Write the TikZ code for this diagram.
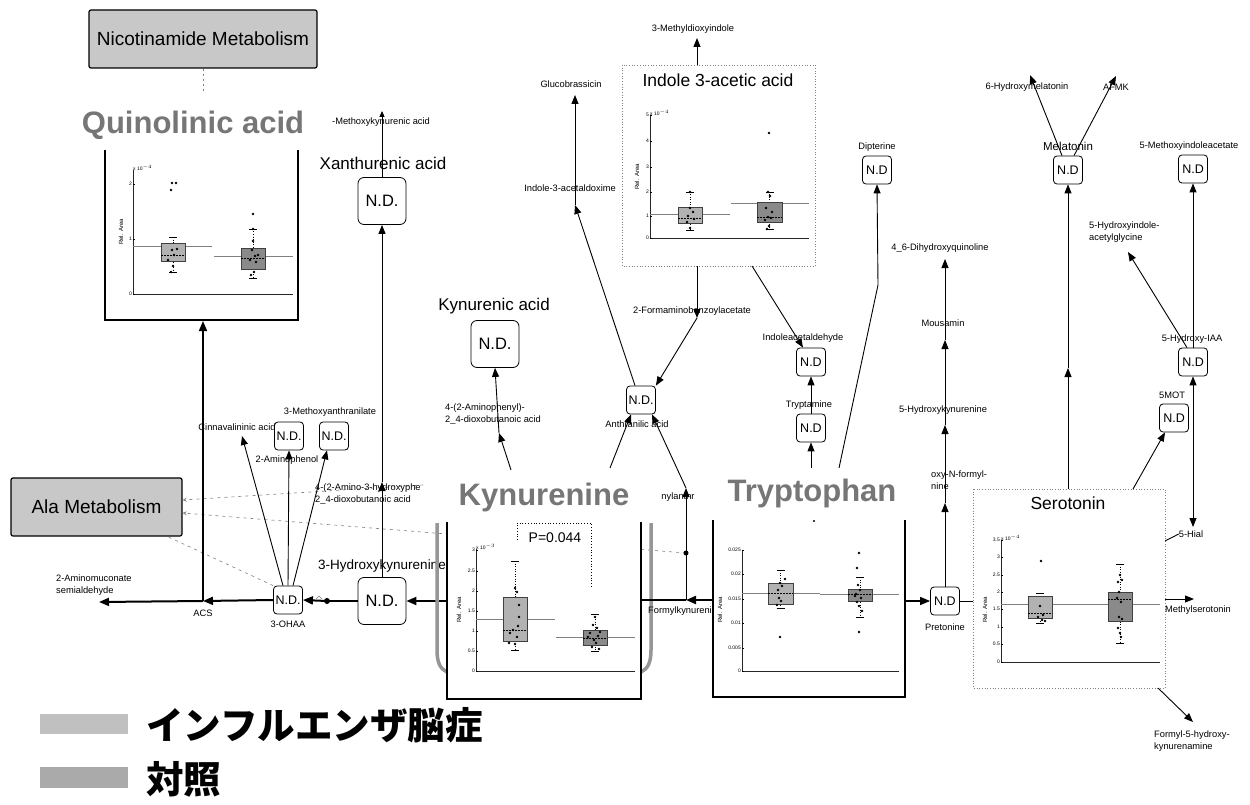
\documentclass[tikz,border=0pt]{standalone}
\usepackage{fontspec}
\setmainfont{Liberation Sans}
\newfontfamily\jpfont{Noto Sans CJK JP}
\usetikzlibrary{arrows.meta,backgrounds}
\definecolor{titlegray}{RGB}{118,118,118}
\definecolor{metabgray}{RGB}{200,200,200}
\definecolor{boxA}{RGB}{178,178,178}
\definecolor{boxB}{RGB}{138,138,138}
\definecolor{legA}{RGB}{192,192,192}
\definecolor{legB}{RGB}{170,170,170}
\definecolor{flaskgray}{RGB}{150,150,150}
\newcommand{\fsz}[1]{\fontsize{#1}{#1}\selectfont}
\newcommand{\bxplot}[8]{%
  \draw[whisk] ({(#1+#2)/2},#5) -- ({(#1+#2)/2},#6);
  \draw[line width=0.5pt] ({(#1+#2)/2-4},#5) -- ({(#1+#2)/2+4},#5);
  \draw[line width=0.5pt] ({(#1+#2)/2-4},#6) -- ({(#1+#2)/2+4},#6);
  \filldraw[fill=#8, draw=black!75, line width=0.6pt] (#1,#3) rectangle (#2,#4);
  \draw[line width=0.5pt, dash pattern=on 2pt off 1pt] (#1,#7) -- (#2,#7);
}
\newcommand{\plotax}[4]{\draw[axisline] (#1,#2) -- (#1,#3) -- (#4,#3);}
\begin{document}
\begin{tikzpicture}[x=1pt,y=-1pt,
  nd/.style={draw, line width=0.8pt, rounded corners=3.5pt, fill=white, minimum width=29pt, minimum height=28pt, inner sep=0pt, font=\fsz{12.5}},
  ndbig/.style={nd, minimum width=48pt, minimum height=47pt, rounded corners=6pt, font=\fsz{16.5}},
  lbl/.style={font=\fontsize{9.3}{11.5}\selectfont, inner sep=0pt},
  midlbl/.style={font=\fsz{17}, inner sep=0pt},
  bigtitle/.style={font=\bfseries\fsz{31}, text=titlegray, inner sep=0pt},
  metab/.style={draw, line width=1.2pt, rounded corners=2pt, fill=metabgray, font=\fsz{19}, inner sep=0pt},
  conn/.style={line width=0.9pt, -{Triangle[length=9pt,width=7pt]}},
  thinline/.style={line width=0.9pt},
  mainarr/.style={line width=2pt, -{Triangle[length=10pt,width=8pt]}},
  mainline/.style={line width=2pt},
  dashlink/.style={gray, dash pattern=on 3pt off 4pt, line width=0.6pt},
  panel/.style={line width=1.8pt},
  dotpanel/.style={draw=gray, dotted, line width=0.7pt},
  axisline/.style={line width=0.8pt, draw=black!85},
  meanline/.style={draw=gray, line width=0.7pt},
  whisk/.style={line width=0.5pt, dotted},
  ticklbl/.style={font=\fsz{5}, inner sep=1pt, anchor=east},
  ylab/.style={font=\fsz{6}, rotate=90, inner sep=0pt}
]
\useasboundingbox (0,0) rectangle (1250,805);

% ---------------- metabolism boxes
\node[metab, minimum width=228pt, minimum height=58pt] (nicot) at (203,39) {Nicotinamide Metabolism};
\coordinate (nicotend) at (203,93);
\draw[gray, dash pattern=on 2pt off 3pt, line width=0.5pt] (nicot.south) -- (nicotend);
\node[metab, minimum width=171pt, minimum height=58pt] (ala) at (96.5,507) {Ala Metabolism};

% ---------------- Quinolinic acid
\node[bigtitle] (quin) at (193,125) {Quinolinic acid};
\draw[panel] (105,150) -- (105,320) -- (298,320) -- (298,150);
\coordinate (quinbot) at (203,321);
\plotax{133}{170}{294}{293}
\foreach \v/\yy [count=\i] in {2/184,1/239,0/294} {\draw[line width=0.4pt] (133,\yy) -- (135,\yy); \node[ticklbl] (qt\i) at (133,\yy) {\v};}
\node[ticklbl, anchor=south west] (qexp) at (132,172) {x 10$^{-4}$};
\node[ylab] (qylab) at (121,232) {Rel. Area};
\draw[meanline] (133,246) -- (212,246);
\draw[meanline] (214,256) -- (293,256);
\bxplot{161}{185}{243}{261}{237}{272}{255}{boxA}
\bxplot{241}{265}{248}{269}{229}{278}{258}{boxB}
\foreach \p in {(172,183),(176,183),(171,190),(172,250),(174,255),(173,266),(168,260),(177,249),(171,272)} \fill \p circle (1.3pt);
\foreach \p in {(253,214),(253,241),(252,250),(255,256),(250,260),(258,255),(254,272),(251,275),(256,262),(253,229)} \fill \p circle (1.3pt);

% ---------------- Xanthurenic acid
\node[midlbl] (xanlab) at (383,163) {Xanthurenic acid};
\node[ndbig] (xan) at (382,201) {N.D.};
\node[lbl] (mkalab) at (381,122) {-Methoxykynurenic acid};
\coordinate (mkatip) at (382,111);
\draw[line width=0.9pt, -{Triangle[length=6pt,width=5pt]}] (xan.north) -- (mkatip);

% ---------------- 3-Hydroxykynurenine
\node[midlbl, font=\fsz{13.5}] (hklab) at (382,566) {3-Hydroxykynurenine};
\node[ndbig] (hk) at (382,601) {N.D.};
\coordinate (hkmid) at (382,482);
\node[lbl, anchor=west, align=left] (ahplab) at (315,494) {4-(2-Amino-3-hydroxyphe\\2\_4-dioxobutanoic acid};
\draw[conn] (hk.north) -- (hkmid);
\draw[conn] (hkmid) -- (xan.south);

% ---------------- main flow to the left
\coordinate (kynL) at (447,601);
\draw[mainarr] (kynL) -- (hk.east);
\node[nd] (ohaa) at (288,600) {N.D.};
\node[lbl] (ohaalab) at (288,624) {3-OHAA};
\coordinate (hkdot) at (327,601);
\draw[mainline] (hk.west) -- (hkdot);
\fill (hkdot) circle (3pt);
\draw[gray, line width=0.6pt] (316,599) -- (319,596) -- (322,599);
\draw[mainarr] (hkdot) -- (ohaa.east);
\coordinate (acs) at (203,601);
\node[lbl] (acslab) at (203,613) {ACS};
\draw[mainarr] (ohaa.west) -- (acs);
\coordinate (amc) at (99,602);
\draw[mainarr] (acs) -- (amc);
\draw[line width=1.5pt, -{Triangle[length=10pt,width=8pt]}] (acs) -- (quinbot);
\node[lbl, anchor=west, align=left] (amclab) at (56,585) {2-Aminomuconate\\semialdehyde};

% ---------------- 3-OHAA products
\node[lbl] (cinlab) at (237,427) {Cinnavalininic acid};
\node[nd] (amph) at (289,436) {N.D.};
\node[lbl] (amphlab) at (287,460) {2-Aminophenol};
\node[nd] (mant) at (334,436) {N.D.};
\node[lbl] (mantlab) at (330,412) {3-Methoxyanthranilate};
\coordinate (cintip) at (242,436);
\draw[conn] ([xshift=-5pt]ohaa.north) -- (cintip);
\draw[conn] (ohaa.north) -- (amph.south);
\draw[conn] ([xshift=5pt]ohaa.north) -- ([xshift=-7pt]mant.south);

% ---------------- Kynurenic acid
\node[midlbl] (kynalab) at (494,306) {Kynurenic acid};
\node[ndbig] (kyna) at (495,344) {N.D.};
\coordinate (kynout1) at (511,470);
\coordinate (apmid) at (499,433);
\node[lbl, anchor=west, align=left] (aplab) at (445,414) {4-(2-Aminophenyl)-\\2\_4-dioxobutanoic acid};
\draw[conn] (kynout1) -- (apmid);
\draw[conn] (apmid) -- (kyna.south);

% ---------------- Kynurenine panel
\node[bigtitle] (kyn) at (544,497) {Kynurenine};
\draw[flaskgray, line width=3.5pt] (437,523) -- (437,650) .. controls (437,664) and (441,669) .. (447,672);
\draw[flaskgray, line width=3.5pt] (651,523) -- (651,650) .. controls (651,664) and (647,669) .. (641,672);
\draw[panel] (447,522) -- (447,699) -- (641,699) -- (641,522);
\plotax{476}{549}{671}{635}
\foreach \v/\yy [count=\i] in {3/550,2.5/571,2/591,1.5/611,1/631,0.5/651,0/671} {\draw[line width=0.4pt] (476,\yy) -- (478,\yy); \node[ticklbl] (kt\i) at (476,\yy) {\v};}
\node[ticklbl, anchor=south west] (kexp) at (475,551) {x 10$^{-3}$};
\node[ylab] (kylab) at (459,610) {Rel. Area};
\draw[meanline] (476,619) -- (555,619);
\draw[meanline] (556,637) -- (635,637);
\bxplot{503}{527}{597}{641}{561}{650}{630}{boxA}
\bxplot{583}{607}{630}{645}{614}{651}{638}{boxB}
\foreach \p in {(515,588),(517,592),(519,605),(519,617),(513,630),(510,633),(517,637),(515,644),(509,643),(518,626)} \fill \p circle (1.3pt);
\foreach \p in {(595,617),(593,625),(597,628),(590,633),(598,636),(594,640),(596,643),(592,647),(599,649),(600,632),(588,637)} \fill \p circle (1.3pt);
\draw[dotted, line width=0.8pt] (517,540) -- (517,523) -- (591,523) -- (591,588);
\node[font=\fsz{14}, inner sep=0pt] (pval) at (555,538) {P=0.044};

% ---------------- Anthranilic acid and N-formyl branch
\node[nd] (anth) at (641,400) {N.D.};
\node[lbl] (anthlab) at (637,424) {Anthranilic acid};
\coordinate (kynout2) at (610,468);
\draw[conn] (kynout2) -- ([xshift=-10pt]anth.south);
\coordinate (fkj) at (686,600);
\coordinate (nfa) at (686,488);
\node[lbl] (nfalab) at (678,497) {nylanthr};
\draw[conn] (nfa) -- ([xshift=11pt]anth.south);
\coordinate (kynR) at (641,600);
\coordinate (tryL) at (713,600);
\draw[mainarr] (tryL) -- (fkj);
\draw[mainline] (fkj) -- (kynR);
\draw[conn] (fkj) -- (nfa);
\coordinate (anthdot) at (686,553);
\fill (anthdot) circle (2.5pt);
\node[lbl, anchor=west] (fkylab) at (648,611) {Formylkynureni};

% ---------------- Indole 3-acetic acid panel
\draw[dotpanel] (622,65) rectangle (815,266);
\node[midlbl, font=\fsz{17.5}] (iaalab) at (718,80) {Indole 3-acetic acid};
\plotax{650}{115}{238}{809}
\foreach \v/\yy [count=\i] in {5/115,4/141,3/167,2/192,1/216,0/238} {\draw[line width=0.4pt] (650,\yy) -- (652,\yy); \node[ticklbl] (it\i) at (650,\yy) {\v};}
\node[ticklbl, anchor=south west] (iexp) at (649,117) {x 10$^{-4}$};
\node[ylab] (iylab) at (637,177) {Rel. Area};
\draw[meanline] (650,214) -- (730,214);
\draw[meanline] (731,203) -- (809,203);
\bxplot{678}{702}{207}{223}{192}{230}{218}{boxA}
\bxplot{757}{782}{202}{222}{192}{229}{217}{boxB}
\foreach \p in {(690,192),(690,208),(693,212),(688,216),(694,219),(687,222),(690,228)} \fill \p circle (1.3pt);
\foreach \p in {(769,133),(768,192),(770,196),(766,208),(772,212),(768,217),(765,220),(771,218),(769,226),(767,229)} \fill \p circle (1.3pt);
\coordinate (iaaT) at (697,65);
\coordinate (mdi) at (697,38);
\draw[conn] (iaaT) -- (mdi);
\node[lbl] (mdilab) at (693,29) {3-Methyldioxyindole};
\coordinate (iaaB) at (697,266);
\coordinate (fab) at (697,318);
\node[lbl] (fablab) at (692,311) {2-Formaminobenzoylacetate};
\draw[conn] (iaaB) -- (fab);
\draw[conn] (fab) -- (anth.north east);

% ---------------- Tryptamine branch
\coordinate (iaaB2) at (752,266);
\node[nd] (iald) at (811,362) {N.D};
\node[lbl] (ialdlab) at (803,338) {Indoleacetaldehyde};
\draw[conn] (iaaB2) -- ([xshift=-8pt]iald.north);
\node[nd] (tam) at (811,428) {N.D};
\node[lbl] (tamlab) at (809,405) {Tryptamine};
\draw[conn] (tam.north) -- (iald.south);
\coordinate (trpout1) at (811,468);
\draw[conn] (trpout1) -- (tam.south);

% ---------------- Indole-3-acetaldoxime branch
\coordinate (iao) at (575,205);
\coordinate (gluc) at (575,95);
\node[lbl] (iaolab) at (570,188) {Indole-3-acetaldoxime};
\node[lbl] (gluclab) at (571,84) {Glucobrassicin};
\draw[conn] ([xshift=-6pt]anth.north) -- (iao);
\draw[conn] (iao) -- (gluc);

% ---------------- Tryptophan panel
\node[bigtitle] (trp) at (812,493) {Tryptophan};
\draw[panel] (713,520) -- (713,697) -- (905,697) -- (905,520);
\fill (814,521) circle (1.2pt);
\plotax{742}{550}{671}{899}
\foreach \v/\yy [count=\i] in {0.025/550,0.02/574,0.015/599,0.01/623,0.005/648,0/671} {\draw[line width=0.4pt] (742,\yy) -- (744,\yy); \node[ticklbl] (tt\i) at (742,\yy) {\v};}
\node[ylab] (tylab) at (720,610) {Rel. Area};
\draw[meanline] (742,593) -- (820,593);
\draw[meanline] (820,594) -- (899,594);
\bxplot{768}{793}{583}{604}{570}{608}{593}{boxA}
\bxplot{848}{872}{589}{601}{577}{617}{594}{boxB}
\foreach \p in {(780,583),(782,586),(778,590),(779,598),(781,601),(777,605),(785,579),(780,637)} \fill \p circle (1.3pt);
\foreach \p in {(859,553),(859,632),(857,568),(858,585),(860,590),(856,594),(861,598),(857,602),(859,606),(862,611),(855,596)} \fill \p circle (1.3pt);

% ---------------- Dipterine
\node[nd] (dip) at (877,170) {N.D};
\node[lbl] (diplab) at (877,147) {Dipterine};
\coordinate (trpout2) at (839,468);
\coordinate (dipbend) at (878,285);
\draw[conn] (trpout2) -- (dipbend) -- (dip.south);

% ---------------- Pretonine chain
\node[nd] (pre) at (945,601) {N.D};
\node[lbl] (prelab) at (945,627) {Pretonine};
\coordinate (tryR) at (905,601);
\draw[line width=1.5pt, -{Triangle[length=10pt,width=8pt]}] (tryR) -- (pre.west);
\coordinate (seroL) at (973,601);
\draw[thinline] (pre.east) -- (seroL);
\coordinate (hfk) at (945,503);
\coordinate (hk5) at (945,425);
\coordinate (mous) at (945,340);
\coordinate (dhq) at (945,259);
\node[lbl, anchor=west, align=left] (hfklab) at (931,480) {oxy-N-formyl-\\nine};
\node[lbl] (hk5lab) at (943,410) {5-Hydroxykynurenine};
\node[lbl] (mouslab) at (943,323) {Mousamin};
\node[lbl] (dhqlab) at (940,248) {4\_6-Dihydroxyquinoline};
\draw[conn] (pre.north) -- (hfk);
\draw[conn] (hfk) -- (hk5);
\draw[conn] (hk5) -- (mous);
\draw[conn] (mous) -- (dhq);

% ---------------- Serotonin panel
\draw[dotpanel] (973,489) rectangle (1165,688);
\node[midlbl, font=\fsz{17.5}] (serolab) at (1068,503) {Serotonin};
\plotax{1001}{540}{662}{1160}
\foreach \v/\yy [count=\i] in {3.5/540,3/557,2.5/575,2/592,1.5/609,1/627,0.5/644,0/662} {\draw[line width=0.4pt] (1001,\yy) -- (1003,\yy); \node[ticklbl] (st\i) at (1001,\yy) {\v};}
\node[ticklbl, anchor=south west] (sexp) at (1000,542) {x 10$^{-4}$};
\node[ylab] (sylab) at (985,610) {Rel. Area};
\draw[meanline] (1001,604) -- (1160,604);
\bxplot{1028}{1052}{596}{618}{593}{623}{613}{boxA}
\bxplot{1108}{1132}{592}{621}{564}{643}{599}{boxB}
\foreach \p in {(1041,561),(1040,606),(1043,615),(1038,617),(1042,620),(1045,621)} \fill \p circle (1.3pt);
\foreach \p in {(1120,575),(1118,582),(1122,580),(1119,592),(1117,598),(1121,602),(1119,617),(1122,619),(1118,628),(1120,633),(1121,637)} \fill \p circle (1.3pt);

% ---------------- Serotonin products
\coordinate (seroT) at (1068,489);
\coordinate (melmid) at (1068,368);
\node[nd] (mel) at (1068,170) {N.D};
\node[lbl, font=\fsz{11.5}] (mellab) at (1068,146) {Melatonin};
\draw[conn] (seroT) -- (melmid);
\draw[conn] (melmid) -- (mel.south);
\coordinate (hmel) at (1030,75);
\coordinate (afmk) at (1116,76);
\node[lbl] (hmellab) at (1027,87) {6-Hydroxymelatonin};
\node[lbl] (afmklab) at (1116,87) {AFMK};
\draw[conn] ([xshift=-6pt]mel.north) -- (hmel);
\draw[conn] ([xshift=6pt]mel.north) -- (afmk);
\node[nd] (mot) at (1174,418) {N.D};
\node[lbl] (motlab) at (1172,395) {5MOT};
\coordinate (seroTR) at (1133,489);
\draw[conn] (seroTR) -- ([xshift=-9pt]mot.south);
\node[lbl] (hiallab) at (1191,534) {5-Hial};
\coordinate (seroR1) at (1165,541);
\draw[thinline] (seroR1) -- (hiallab.west);
\node[nd] (hiaa) at (1193,362) {N.D};
\node[lbl] (hiaalab) at (1192,339) {5-Hydroxy-IAA};
\coordinate (hialtop) at (1193,527);
\draw[line width=0.9pt, {Triangle[length=9pt,width=7pt]}-{Triangle[length=9pt,width=7pt]}] (hialtop) -- (hiaa.south);
\node[nd] (mia) at (1193,169) {N.D};
\node[lbl] (mialab) at (1189,146) {5-Methoxyindoleacetate};
\draw[conn] (hiaa.north) -- (mia.south);
\coordinate (hiag) at (1128,252);
\node[lbl, anchor=west, align=left] (hiaglab) at (1089,232) {5-Hydroxyindole-\\acetylglycine};
\draw[conn] ([xshift=-6pt]hiaa.north) -- (hiag);
\coordinate (seroR2) at (1165,599);
\coordinate (mser) at (1194,599);
\draw[conn] (seroR2) -- (mser);
\node[lbl, anchor=west] (mserlab) at (1165,610) {Methylserotonin};
\coordinate (seroBR) at (1158,688);
\coordinate (f5h) at (1193,722);
\draw[conn] (seroBR) -- (f5h);
\node[lbl, anchor=west, align=left] (f5hlab) at (1154,741) {Formyl-5-hydroxy-\\kynurenamine};

% ---------------- legend
\node[fill=legA, minimum width=88pt, minimum height=20pt, inner sep=0pt] (lega) at (84,724) {};
\node[anchor=west, font=\jpfont\bfseries\fsz{37.5}, inner sep=0pt] (legatxt) at (146,725) {インフルエンザ脳症};
\node[fill=legB, minimum width=88pt, minimum height=21pt, inner sep=0pt] (legb) at (84,777) {};
\node[anchor=west, font=\jpfont\bfseries\fsz{37.5}, inner sep=0pt] (legbtxt) at (146,779) {対照};

% ---------------- background: white page and dashed links
\begin{scope}[on background layer]
\fill[white] (0,0) rectangle (1250,805);
\coordinate (ahpend) at (423,485);
\draw[dashlink, -{Stealth[open,length=4pt,width=4pt]}] (ahpend) -- ([yshift=7pt]ala.east);
\draw[dashlink, -{Stealth[open,length=4pt,width=4pt]}] (anthdot) -- ([yshift=-6pt]ala.east);
\draw[dashlink] (ohaa.north west) -- ([xshift=-15pt]ala.south east);
\fill[white] (448,523) rectangle (640,698);
\end{scope}
\end{tikzpicture}
\end{document}
